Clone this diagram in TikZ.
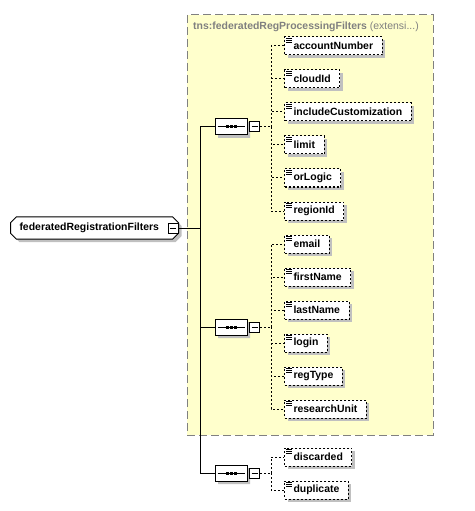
\documentclass[tikz,border=0pt]{standalone}
\usepackage{fontspec}
\setmainfont{Liberation Sans}
\usetikzlibrary{calc}
\usetikzlibrary{positioning}
\usetikzlibrary{shapes.misc}
\usetikzlibrary{shadows}
\definecolor{jaune}{RGB}{255,255,204}
\definecolor{ombre}{RGB}{192,192,192}
\definecolor{bordgris}{RGB}{128,128,128}
\newcommand{\Police}{\bfseries\fontsize{10.5}{12}\selectfont}
\tikzset{
    ombrage/.style={drop shadow={shadow xshift=3bp,shadow yshift=-3bp,
        fill=ombre,opacity=1}},
    % boite avec le signe moins
    moins/.style={draw,fill=white,minimum size=10bp,inner sep=0pt,
        line width=1bp,
        path picture={\draw[line width=1bp]
            ([xshift=2bp]path picture bounding box.west)
            -- ([xshift=-2bp]path picture bounding box.east);}},
    % element racine
    racine/.style={chamfered rectangle,chamfered rectangle xsep=3bp,
        chamfered rectangle ysep=3bp,draw,fill=white,ombrage,
        line width=1bp,text width=150bp,align=left,inner xsep=6bp,
        minimum height=21bp,anchor=west,font=\Police},
    % sequence
    seq/.style={chamfered rectangle,chamfered rectangle xsep=5bp,
        chamfered rectangle ysep=5bp,draw,fill=white,ombrage,
        line width=1bp,minimum width=32bp,minimum height=16bp,inner sep=0pt},
    % element optionnel
    elem/.style={draw,dash pattern=on 2bp off 2bp,line width=1bp,fill=white,
        ombrage,minimum height=18bp,inner xsep=9bp,inner ysep=0pt,
        anchor=west,font=\Police,
        path picture={
            \foreach \k in {1.5bp,3.5bp,5.5bp}
                \draw[solid,line width=0.8bp]
                    ([xshift=1.5bp,yshift=-\k]path picture bounding box.north west)
                    -- ++(6bp,0bp);}},
    trait/.style={line width=1bp},
    pointille/.style={line width=1bp,dash pattern=on 2bp off 2bp},
}
% le trait et les trois points d'une sequence
\newcommand{\Points}[1]{%
    \draw[trait] ([xshift=3bp]#1.west) -- ([xshift=-3bp]#1.east);
    \fill ([xshift=-5.5bp,yshift=-1.5bp]#1.center) rectangle ++(3bp,3bp);
    \fill ([xshift=-1.5bp,yshift=-1.5bp]#1.center) rectangle ++(3bp,3bp);
    \fill ([xshift=2.5bp,yshift=-1.5bp]#1.center) rectangle ++(3bp,3bp);
}
\begin{document}
\begin{tikzpicture}[x=1bp,y=-1bp]
\useasboundingbox (0,0) rectangle (475,511);

% type de base (extension)
\draw[bordgris,line width=1bp,dash pattern=on 8bp off 4bp,fill=jaune]
    (187,15) rectangle (433,435);
\node[anchor=west,text=bordgris,inner sep=0pt,font=\fontsize{10.5}{12}\selectfont]
    (titre) at (193,27) {\textbf{tns:federatedRegProcessingFilters} (extensi...)};

% racine
\node[racine] (racine) at (10,228) {federatedRegistrationFilters};
\node[moins] (rmoins) at (173,228) {};
\coordinate (tr) at (200,228);
\draw[trait] (rmoins.east) -- (tr);

% les trois sequences
\node[seq] (seq1) at (231,127) {};
\node[moins,right=1.5bp of seq1] (m1) {};
\node[seq] (seq2) at (231,327) {};
\node[moins,right=1.5bp of seq2] (m2) {};
\node[seq] (seq3) at (231,473) {};
\node[moins,right=1.5bp of seq3] (m3) {};
\Points{seq1}
\Points{seq2}
\Points{seq3}

\draw[trait] (tr) |- (seq1.west);
\draw[trait] (tr) |- (seq2.west);
\draw[trait] (tr) |- (seq3.west);

\coordinate (t1) at ($(m1.east)+(11,0)$);
\coordinate (t2) at ($(m2.east)+(11,0)$);
\coordinate (t3) at ($(m3.east)+(11,0)$);
\draw[pointille] (m1.east) -- (t1);
\draw[pointille] (m2.east) -- (t2);
\draw[pointille] (m3.east) -- (t3);

% premiere sequence
\node[elem] (accountNumber) at (284,46) {accountNumber};
\node[elem] (cloudId) at (284,79) {cloudId};
\node[elem] (includeCustomization) at (284,112) {includeCustomization};
\node[elem] (limit) at (284,145) {limit};
\node[elem] (orLogic) at (284,178) {orLogic};
\node[elem] (regionId) at (284,211) {regionId};
\draw[pointille] (t1) |- (accountNumber.west);
\draw[pointille] (t1) |- (cloudId.west);
\draw[pointille] (t1) |- (includeCustomization.west);
\draw[pointille] (t1) |- (limit.west);
\draw[pointille] (t1) |- (orLogic.west);
\draw[pointille] (t1) |- (regionId.west);

% deuxieme sequence
\node[elem] (email) at (284,244) {email};
\node[elem] (firstName) at (284,277) {firstName};
\node[elem] (lastName) at (284,310) {lastName};
\node[elem] (login) at (284,343) {login};
\node[elem] (regType) at (284,376) {regType};
\node[elem] (researchUnit) at (284,409) {researchUnit};
\draw[pointille] (t2) |- (email.west);
\draw[pointille] (t2) |- (firstName.west);
\draw[pointille] (t2) |- (lastName.west);
\draw[pointille] (t2) |- (login.west);
\draw[pointille] (t2) |- (regType.west);
\draw[pointille] (t2) |- (researchUnit.west);

% troisieme sequence
\node[elem] (discarded) at (284,457) {discarded};
\node[elem] (duplicate) at (284,490) {duplicate};
\draw[pointille] (t3) |- (discarded.west);
\draw[pointille] (t3) |- (duplicate.west);

\end{tikzpicture}
\end{document}
